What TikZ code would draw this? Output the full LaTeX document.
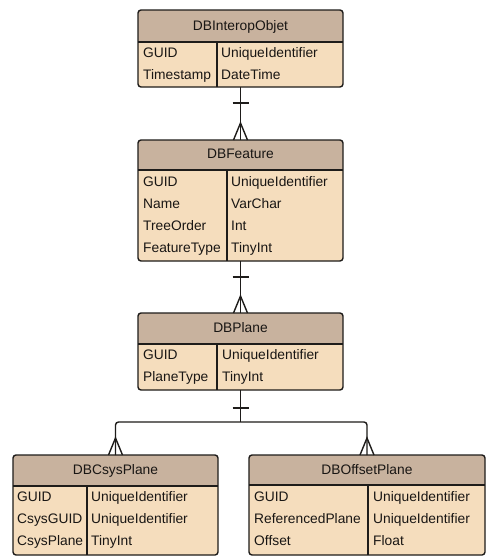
\documentclass[tikz,border=0pt]{standalone}
\usepackage{fontspec}
\setmainfont{Liberation Sans}
\usetikzlibrary{calc}
\pgfdeclarelayer{background}
\pgfsetlayers{background,main}

\definecolor{hdrfill}{RGB}{200,178,158}
\definecolor{bodyfill}{RGB}{245,221,189}
\definecolor{inkline}{RGB}{30,28,26}
\definecolor{inktext}{RGB}{25,22,20}

\tikzset{
  entity/.style={fill=bodyfill, inner sep=0pt, outer sep=0pt, rounded corners=3pt, anchor=north west},
  frame/.style={draw=inkline, line width=1.4pt, rounded corners=3pt},
  rule/.style={draw=inkline, line width=1.3pt},
  link/.style={draw=inkline, line width=1.4pt},
  title/.style={anchor=base, inner sep=0pt, text=inktext, font=\fontsize{13.8}{16}\selectfont},
  cell/.style={anchor=base west, inner sep=0pt, text=inktext, font=\fontsize{13.8}{16}\selectfont},
}

% #1 name, #2 left, #3 top, #4 right, #5 bottom, #6 header bottom, #7 column rule
\newcommand\erframe[7]{%
  \node[entity, minimum width={(#4-#2)*1pt}, minimum height={(#5-#3)*1pt}] (#1) at (#2,-#3) {};
  \begin{pgfonlayer}{background}
    \foreach \d in {0,1,2,3,4}
      \fill[black, opacity=0.08, rounded corners=4pt]
        ($(#1.north west)+(1-0.6*\d,-2+0.3*\d)$) rectangle ($(#1.south east)+(1+0.6*\d,-3-\d)$);
  \end{pgfonlayer}
  \begin{scope}
    \clip[rounded corners=3pt] (#1.north west) rectangle (#1.south east);
    \fill[hdrfill] (#1.north west) rectangle (#4,-#6);
  \end{scope}
  \draw[rule] (#2,-#6) -- (#4,-#6);
  \draw[rule] (#7,-#6) -- (#7,-#5);
  \draw[frame] (#1.north west) rectangle (#1.south east);
}

% one-end tick below a node, many-end crow's foot above a node
\newcommand\onetick[2]{\draw[link] ($(#1.south)+(-8,-#2)$) -- ++(16,0);}
\newcommand\crowfoot[1]{%
  \draw[link] ($(#1.north)+(-7,0)$) -- ($(#1.north)+(0,17)$) -- ($(#1.north)+(7,0)$);}

\begin{document}
\begin{tikzpicture}[x=1pt, y=1pt]
  \useasboundingbox (0,0) rectangle (486,-557);
  \fill[white] (0,0) rectangle (486,-557);

  % entities
  \erframe{interop}{138}{10}{343}{87}{42}{217}
  \node[title] (interop-t) at (240.5,-30) {DBInteropObjet};
  \node[cell] (interop-a1) at (143,-57) {GUID};
  \node[cell] (interop-b1) at (221,-57) {UniqueIdentifier};
  \node[cell] (interop-a2) at (143,-79) {Timestamp};
  \node[cell] (interop-b2) at (221,-79) {DateTime};

  \erframe{feature}{138}{140}{343}{261}{170}{227}
  \node[title] (feature-t) at (240.5,-158) {DBFeature};
  \node[cell] (feature-a1) at (143,-186) {GUID};
  \node[cell] (feature-b1) at (231,-186) {UniqueIdentifier};
  \node[cell] (feature-a2) at (143,-208) {Name};
  \node[cell] (feature-b2) at (231,-208) {VarChar};
  \node[cell] (feature-a3) at (143,-230) {TreeOrder};
  \node[cell] (feature-b3) at (231,-230) {Int};
  \node[cell] (feature-a4) at (143,-252) {FeatureType};
  \node[cell] (feature-b4) at (231,-252) {TinyInt};

  \erframe{plane}{138}{313}{343}{390}{344}{217}
  \node[title] (plane-t) at (240.5,-332) {DBPlane};
  \node[cell] (plane-a1) at (143,-359) {GUID};
  \node[cell] (plane-b1) at (222,-359) {UniqueIdentifier};
  \node[cell] (plane-a2) at (143,-381) {PlaneType};
  \node[cell] (plane-b2) at (222,-381) {TinyInt};

  \erframe{csys}{13}{455}{218}{555}{486}{87}
  \node[title] (csys-t) at (115.5,-474) {DBCsysPlane};
  \node[cell] (csys-a1) at (17,-501) {GUID};
  \node[cell] (csys-b1) at (91,-501) {UniqueIdentifier};
  \node[cell] (csys-a2) at (17,-523) {CsysGUID};
  \node[cell] (csys-b2) at (91,-523) {UniqueIdentifier};
  \node[cell] (csys-a3) at (17,-545) {CsysPlane};
  \node[cell] (csys-b3) at (91,-545) {TinyInt};

  \erframe{offset}{249}{455}{485}{555}{485}{368}
  \node[title] (offset-t) at (367,-474) {DBOffsetPlane};
  \node[cell] (offset-a1) at (254,-501) {GUID};
  \node[cell] (offset-b1) at (373,-501) {UniqueIdentifier};
  \node[cell] (offset-a2) at (254,-523) {ReferencedPlane};
  \node[cell] (offset-b2) at (373,-523) {UniqueIdentifier};
  \node[cell] (offset-a3) at (254,-545) {Offset};
  \node[cell] (offset-b3) at (373,-545) {Float};

  % relationships
  \draw[link] (interop.south) -- (feature.north);
  \onetick{interop}{16}
  \crowfoot{feature}

  \draw[link] (feature.south) -- (plane.north);
  \onetick{feature}{16}
  \crowfoot{plane}

  \coordinate (branch) at ($(plane.south)+(0,-32)$);
  \draw[link] (plane.south) -- (branch);
  \draw[link, rounded corners=3pt] (csys.north) |- (branch) -| (offset.north);
  \onetick{plane}{18}
  \crowfoot{csys}
  \crowfoot{offset}
\end{tikzpicture}
\end{document}
